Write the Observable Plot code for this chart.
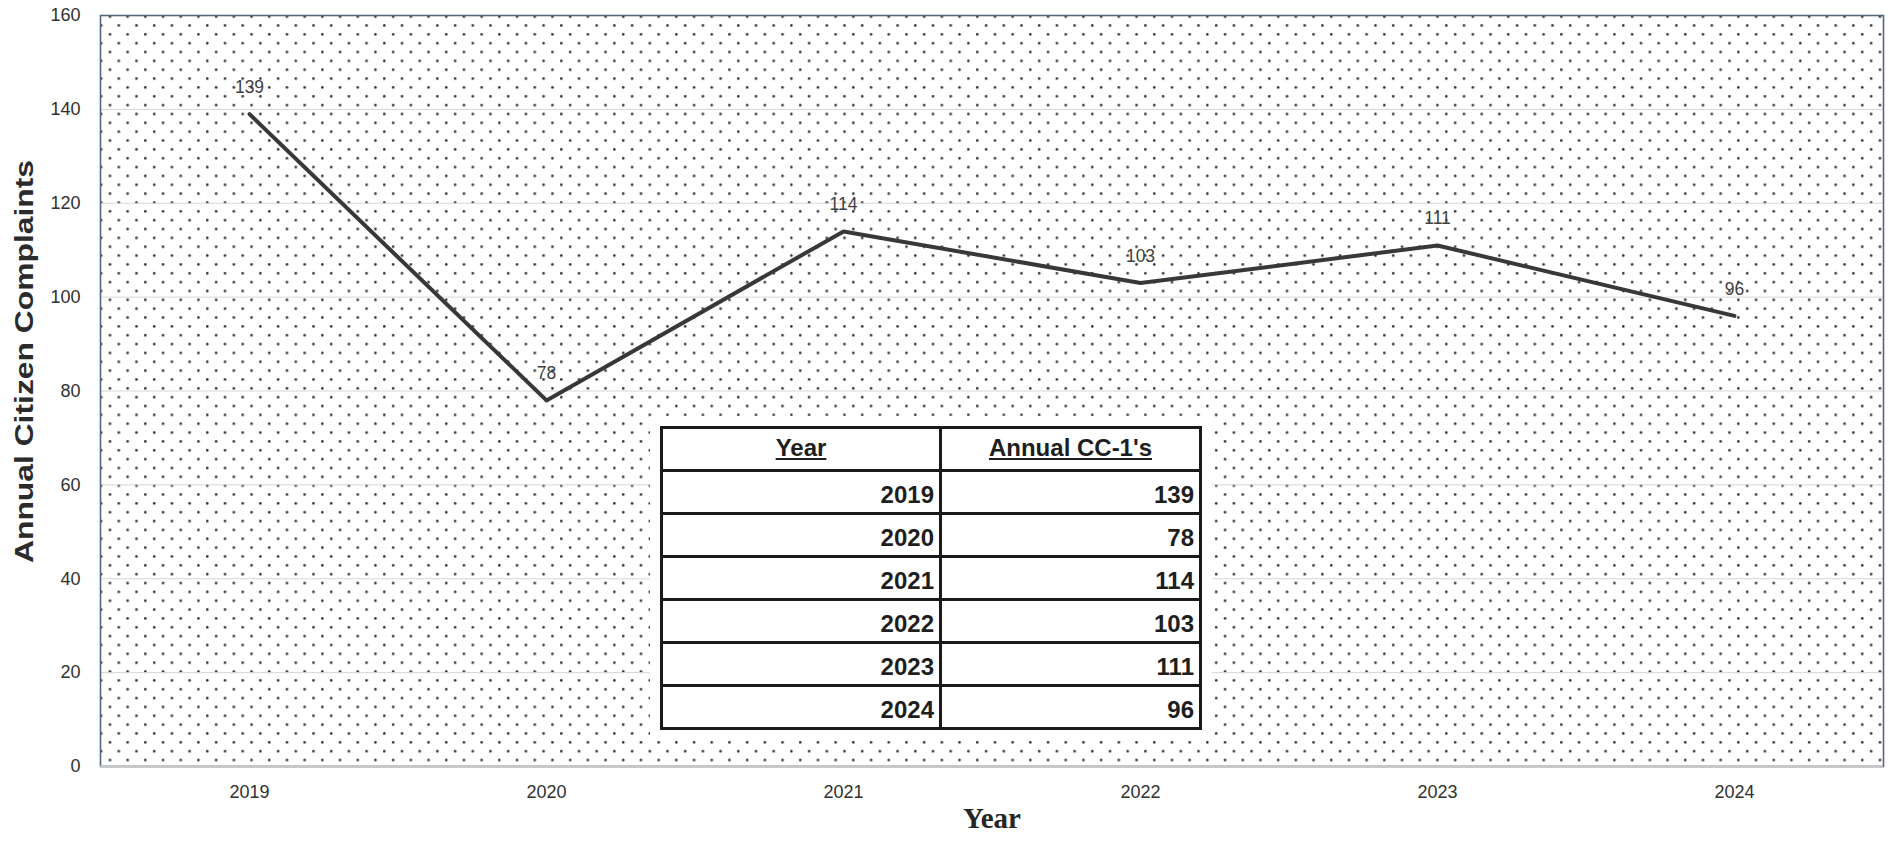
<!DOCTYPE html>
<html>
<head>
<meta charset="utf-8">
<script src="https://cdn.jsdelivr.net/npm/d3@7"></script>
<script src="https://cdn.jsdelivr.net/npm/@observablehq/plot@0.6"></script>
<style>
html, body { margin: 0; padding: 0; background: #fff; }
#wrap { position: relative; width: 1893px; height: 843px; overflow: hidden; }
#tblbox { position: absolute; left: 650px; top: 416px; padding: 10px; background: #fff; }
#tblbox table { border-collapse: collapse; width: 539px; height: 299px; table-layout: fixed;
  font-family: "Liberation Sans", Arial, sans-serif; font-weight: bold; font-size: 24px;
  color: #1e1e1e; }
#tblbox th, #tblbox td { border: 3px solid #1a1a1a; padding: 0 5px 3px 5px; height: 37px; }
#tblbox th { text-align: center; text-decoration: underline; vertical-align: middle; }
#tblbox td { text-align: right; vertical-align: bottom; }
</style>
</head>
<body>
<div id="wrap"></div>
<script>
// ---- data ----
const years = ["2019", "2020", "2021", "2022", "2023", "2024"];
const complaints = [139, 78, 114, 103, 111, 96];
const yTicks = [0, 20, 40, 60, 80, 100, 120, 140, 160];
const tableHeaders = ["Year", "Annual CC-1's"];
const yTitle = "Annual Citizen Complaints";
const xTitle = "Year";

const data = years.map((year, i) => ({ year, value: complaints[i] }));

const chart = Plot.plot({
  width: 1893,
  height: 843,
  marginLeft: 100,
  marginRight: 10,
  marginTop: 15,
  marginBottom: 77,
  style: { fontFamily: '"Liberation Sans", Arial, sans-serif', background: "#fff", color: "#303030" },
  x: { type: "point", domain: years, padding: 0.5, label: null },
  y: { domain: [0, 160], label: null },
  marks: [
    Plot.frame({ fill: "url(#dots)", stroke: "none" }),
    Plot.gridY(yTicks, { stroke: "#d6d6d6", strokeOpacity: 1, strokeWidth: 1 }),
    Plot.frame({ stroke: "#56677d", strokeWidth: 1.6 }),
    Plot.ruleY([0], { stroke: "#c4c4c4", strokeWidth: 2 }),
    Plot.axisY(yTicks, { tickSize: 0, tickPadding: 20, fontSize: 18, label: null }),
    Plot.axisX({ tickSize: 0, tickPadding: 19, fontSize: 18, label: null }),
    Plot.line(data, { x: "year", y: "value", stroke: "#383838", strokeWidth: 4 }),
    Plot.text(data, { x: "year", y: "value", text: d => String(d.value), dy: -27, fontSize: 17.5, fill: "#404040" }),
    Plot.text([yTitle], { frameAnchor: "left", dx: -76, dy: 172, rotate: -90, textAnchor: "start",
      fontSize: 25, fontWeight: "bold", fill: "#2b2b2b" }),
    Plot.text([xTitle], { frameAnchor: "bottom", dy: 61, fontSize: 29, fontWeight: "bold",
      fontFamily: '"Liberation Serif", "Times New Roman", serif', fill: "#262626" })
  ]
});

// dotted fill pattern
const svg = d3.select(chart);
const defs = svg.insert("defs", ":first-child");
const pat = defs.append("pattern").attr("id", "dots").attr("patternUnits", "userSpaceOnUse")
  .attr("width", 17.7).attr("height", 17.7);
pat.append("rect").attr("width", 17.7).attr("height", 17.7).attr("fill", "#fff");
pat.append("circle").attr("cx", 12.1).attr("cy", 7.3).attr("r", 1.3).attr("fill", "#333");
pat.append("circle").attr("cx", 3.25).attr("cy", 16.15).attr("r", 1.3).attr("fill", "#333");

svg.selectAll("text").filter(function () { return this.textContent === yTitle; })
  .attr("textLength", 403).attr("lengthAdjust", "spacingAndGlyphs");

const wrap = document.getElementById("wrap");
wrap.appendChild(chart);

// inset table
const box = document.createElement("div");
box.id = "tblbox";
const table = document.createElement("table");
const colgroup = document.createElement("colgroup");
[279, 260].forEach(w => { const c = document.createElement("col"); c.style.width = w + "px"; colgroup.appendChild(c); });
table.appendChild(colgroup);
const hr = document.createElement("tr");
tableHeaders.forEach(h => { const th = document.createElement("th"); th.textContent = h; hr.appendChild(th); });
table.appendChild(hr);
years.forEach((y, i) => {
  const tr = document.createElement("tr");
  [y, String(complaints[i])].forEach(v => { const td = document.createElement("td"); td.textContent = v; tr.appendChild(td); });
  table.appendChild(tr);
});
box.appendChild(table);
wrap.appendChild(box);
</script>
</body>
</html>
